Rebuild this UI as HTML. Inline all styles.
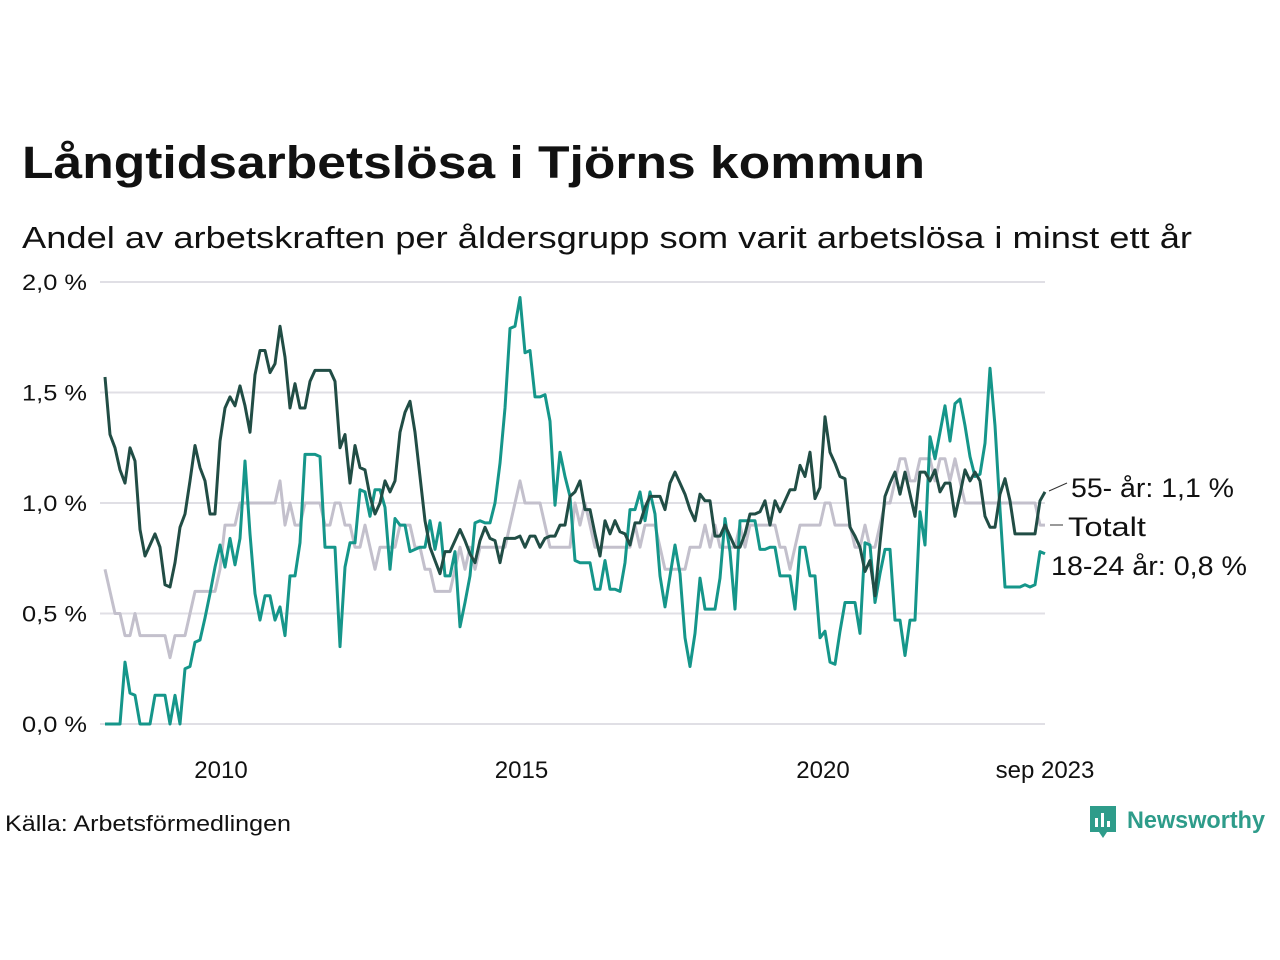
<!DOCTYPE html>
<html><head><meta charset="utf-8"><style>
html,body{margin:0;padding:0;background:#fff;}
svg{display:block;font-family:"Liberation Sans","DejaVu Sans",sans-serif;}
</style></head><body>
<svg id="chart" width="1280" height="960" viewBox="0 0 1280 960" xmlns="http://www.w3.org/2000/svg">
<text x="22" y="178" font-size="45" font-weight="bold" fill="#111" textLength="903" lengthAdjust="spacingAndGlyphs">Långtidsarbetslösa i Tjörns kommun</text>
<text x="22" y="248" font-size="31" fill="#111" textLength="1170" lengthAdjust="spacingAndGlyphs">Andel av arbetskraften per åldersgrupp som varit arbetslösa i minst ett år</text>
<g id="grid"></g>
<g id="yticks"></g>
<g id="xticks"></g>
<g id="lines"></g>
<g id="labels"></g>
<text x="5" y="831" font-size="22" fill="#111" textLength="286" lengthAdjust="spacingAndGlyphs">Källa: Arbetsförmedlingen</text>
<g>
<path d="M1090 806 h26 v26 h-9 l-4 6 l-4 -6 h-9 z" fill="#2e9c8a"/>
<rect x="1095" y="818" width="3" height="9" fill="#fff"/><rect x="1101" y="813" width="3" height="14" fill="#fff"/><rect x="1107" y="821" width="3" height="6" fill="#fff"/>
<text x="1127" y="828" font-size="24" font-weight="bold" fill="#2e9c8a" textLength="138" lengthAdjust="spacingAndGlyphs">Newsworthy</text>
</g>
</svg>
<script>
const yTicks=[0,0.5,1.0,1.5,2.0];
const yTickLabels=["0,0 %","0,5 %","1,0 %","1,5 %","2,0 %"];
const xTickMonths=[23.2,83.3,143.6,188];
const xTickLabels=["2010","2015","2020","sep 2023"];
const seriesNames=["Totalt","18-24 år","55- år"];
const totalt=[0.7,0.6,0.5,0.5,0.4,0.4,0.5,0.4,0.4,0.4,0.4,0.4,0.4,0.3,0.4,0.4,0.4,0.5,0.6,0.6,0.6,0.6,0.6,0.7,0.9,0.9,0.9,1.0,1.0,1.0,1.0,1.0,1.0,1.0,1.0,1.1,0.9,1.0,0.9,0.9,1.0,1.0,1.0,1.0,0.9,0.9,1.0,
1.0,0.9,0.9,0.8,0.8,0.9,0.8,0.7,0.8,0.8,0.8,0.8,0.9,0.9,0.9,0.8,0.8,0.7,0.7,0.6,0.6,0.6,0.6,0.7,0.8,0.7,0.8,0.7,0.8,0.8,0.8,0.8,0.8,0.8,0.9,1.0,1.1,1.0,1.0,1.0,1.0,0.9,0.8,0.8,0.8,0.8,0.8,
1.0,0.9,1.0,0.9,0.8,0.8,0.8,0.8,0.8,0.8,0.8,0.8,0.9,0.8,0.9,0.9,0.9,0.8,0.7,0.7,0.7,0.7,0.7,0.8,0.8,0.8,0.9,0.8,0.9,0.8,0.8,0.8,0.8,0.9,0.8,0.9,0.9,0.9,0.9,0.9,0.9,0.8,0.8,0.7,0.8,0.9,0.9,0.9,
0.9,0.9,1.0,1.0,0.9,0.9,0.9,0.9,0.8,0.8,0.9,0.8,0.8,0.9,1.0,1.0,1.1,1.2,1.2,1.1,1.1,1.2,1.2,1.2,1.1,1.2,1.2,1.1,1.2,1.1,1.0,1.0,1.0,1.0,1.0,1.0,1.0,1.0,1.0,1.0,1.0,1.0,1.0,1.0,1.0,0.9,0.9];
const young=[0,0,0,0,0.28,0.14,0.13,0,0,0,0.13,0.13,0.13,0,0.13,0,0.25,0.26,0.37,0.38,0.48,0.59,0.71,0.81,0.71,0.84,0.72,0.84,1.19,0.86,0.59,0.47,0.58,0.58,0.47,0.53,0.40,0.67,0.67,0.82,1.22,1.22,1.22,1.21,0.80,0.80,0.80,
0.35,0.71,0.82,0.82,1.06,1.05,0.94,1.06,1.06,0.98,0.70,0.93,0.90,0.90,0.78,0.79,0.80,0.80,0.92,0.79,0.91,0.67,0.67,0.78,0.44,0.55,0.67,0.91,0.92,0.91,0.91,1.00,1.18,1.43,1.79,1.80,1.93,1.68,1.69,1.48,1.48,1.49,1.37,0.99,1.23,1.12,1.03,
0.74,0.73,0.73,0.73,0.61,0.61,0.74,0.61,0.61,0.60,0.73,0.97,0.97,1.05,0.92,1.05,0.95,0.67,0.53,0.67,0.81,0.68,0.39,0.26,0.41,0.66,0.52,0.52,0.52,0.66,0.93,0.78,0.52,0.92,0.92,0.92,0.92,0.79,0.79,0.80,0.80,0.67,0.67,0.67,0.52,0.80,0.80,0.67,
0.67,0.39,0.42,0.28,0.27,0.42,0.55,0.55,0.55,0.41,0.82,0.81,0.55,0.68,0.79,0.79,0.47,0.47,0.31,0.47,0.47,0.96,0.81,1.30,1.20,1.32,1.44,1.28,1.45,1.47,1.35,1.21,1.12,1.13,1.27,1.61,1.35,0.97,0.62,0.62,0.62,0.62,0.63,0.62,0.63,0.78,0.77];
const senior=[1.57,1.31,1.25,1.15,1.09,1.25,1.19,0.88,0.76,0.81,0.86,0.80,0.63,0.62,0.73,0.89,0.95,1.10,1.26,1.16,1.10,0.95,0.95,
1.28,1.43,1.48,1.44,1.53,1.44,1.32,1.58,1.69,1.69,1.59,1.63,1.80,1.66,1.43,1.54,1.43,1.43,1.55,1.60,1.60,1.60,1.60,1.55,
1.25,1.31,1.09,1.26,1.16,1.15,1.03,0.95,1.00,1.10,1.05,1.10,1.32,1.41,1.46,1.32,1.12,0.92,0.80,0.74,0.68,0.78,0.78,0.83,0.88,0.83,0.77,0.73,0.83,0.89,0.84,0.83,0.73,0.84,0.84,0.84,0.85,0.80,0.85,0.85,0.80,0.84,0.85,0.85,0.90,0.90,1.03,
1.05,1.10,0.97,0.97,0.86,0.76,0.92,0.86,0.92,0.87,0.86,0.81,0.91,0.91,0.98,1.03,1.03,1.03,0.97,1.09,1.14,1.09,1.04,0.97,0.92,1.04,1.01,1.01,0.85,0.85,0.90,0.85,0.80,0.80,0.86,0.95,0.95,0.96,1.01,0.90,1.01,0.96,1.01,1.06,1.06,1.17,1.12,1.23,
1.02,1.07,1.39,1.23,1.18,1.12,1.11,0.89,0.85,0.80,0.69,0.74,0.58,0.82,1.03,1.09,1.14,1.04,1.14,1.04,0.94,1.14,1.14,1.10,1.15,1.05,1.09,1.09,0.94,1.04,1.15,1.10,1.14,1.10,0.94,0.89,0.89,1.04,1.11,1.01,0.86,0.86,0.86,0.86,0.86,1.01,1.05];

const NS="http://www.w3.org/2000/svg";
const X0=105,X1=1045,Y0=724,Y1=282,NM=188;
function xs(i){return X0+(X1-X0)*i/NM;}
function ys(v){return Y0-(Y0-Y1)*v/2.0;}
function mk(tag,attrs,parent){const e=document.createElementNS(NS,tag);for(const k in attrs)e.setAttribute(k,attrs[k]);parent.appendChild(e);return e;}
const grid=document.getElementById('grid'),yt=document.getElementById('yticks'),xt=document.getElementById('xticks'),lines=document.getElementById('lines'),labels=document.getElementById('labels');
yTicks.forEach((v,i)=>{
  const l=mk('line',{x1:100,x2:1045,y1:ys(v),y2:ys(v),stroke:'#e0dfe5','stroke-width':2},grid);
  
  
  const t=mk('text',{x:22,y:ys(v)+8,'font-size':22,fill:'#111',textLength:65,lengthAdjust:'spacingAndGlyphs'},yt);
  t.textContent=yTickLabels[i];
  
  
});
xTickMonths.forEach((m,i)=>{
  const t=mk('text',{x:xs(m),y:778,'font-size':24,'text-anchor':'middle',fill:'#111'},xt);
  t.textContent=xTickLabels[i];
  
  
});
function drawLine(arr,color,name){
  const d=arr.map((v,i)=>(i?'L':'M')+xs(i).toFixed(1)+' '+ys(v).toFixed(1)).join(' ');
  const p=mk('path',{d:d,fill:'none',stroke:color,'stroke-width':3,'stroke-linejoin':'round'},lines);
  
  
}
drawLine(totalt,'#c3c0cc','line-totalt');
drawLine(young,'#15968a','line-18-24');
drawLine(senior,'#214d45','line-55-plus');
function lab(txt,x,y,w,lx1,ly1,lx2,ly2,name){
  mk('line',{x1:lx1,y1:ly1,x2:lx2,y2:ly2,stroke:'#333','stroke-width':1},labels);
  const t=mk('text',{x:x,y:y,'font-size':27,fill:'#111',textLength:w,lengthAdjust:'spacingAndGlyphs'},labels);
  t.textContent=txt;
  
  
}
lab("55- år: 1,1 %",1071,497,163,1049,491,1067,483,'label-55-plus');
lab("Totalt",1068,536,78,1050,525,1063,525,'label-totalt');
lab("18-24 år: 0,8 %",1051,575,196,1046,552,1046,552,'label-18-24');
</script>
</body></html>
